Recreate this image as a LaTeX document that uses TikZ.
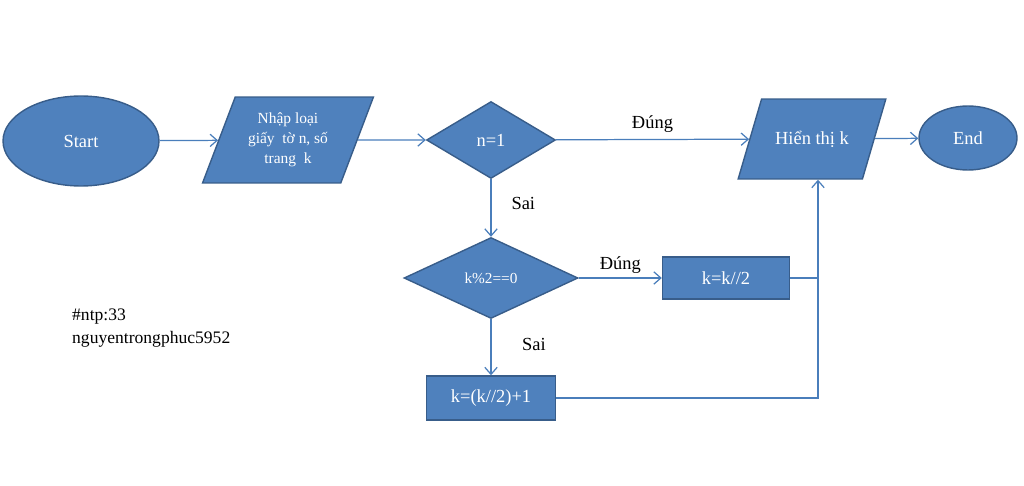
\documentclass[tikz,border=0pt]{standalone}
\usepackage{fontspec}
\setmainfont{Liberation Serif}
\usepackage{tikz}
\usetikzlibrary{positioning,arrows.meta,shapes.geometric,calc}

\definecolor{boxfill}{HTML}{4F81BD}
\definecolor{boxline}{HTML}{385D8A}
\definecolor{arrline}{HTML}{4A7EBB}

\begin{document}
\begin{tikzpicture}[
    x=0.02cm, y=-0.02cm,
    font=\fontsize{10.5}{12}\selectfont,
    base/.style={draw=boxline, fill=boxfill, text=white, line width=0.8pt,
                 inner sep=1pt, align=center},
    term/.style={base, ellipse},
    io/.style={base, trapezium, trapezium left angle=66, trapezium right angle=114,
               trapezium stretches},
    cond/.style={base, diamond},
    proc/.style={base, rectangle},
    arr/.style={-{Straight Barb[length=4pt,width=7pt]}, draw=arrline, line width=0.7pt},
    lin/.style={draw=arrline, line width=0.7pt},
    lbl/.style={text=black}
  ]
    \useasboundingbox (0,0) rectangle (1024,486);
    \node[term, minimum width=3.12cm, minimum height=1.8cm] (start) at (81,141) {Start};
    \node[io, minimum width=3.42cm, minimum height=1.72cm,
          font=\fontsize{8.8}{11.5}\selectfont] (inp) at (288,140)
          {Nhập loại\\giấy\ \ tờ n, số\\trang\ \ k};
    \node[cond, minimum width=2.58cm, minimum height=1.54cm] (c1) at (491,140) {n=1};
    \node[io, trapezium left angle=48, trapezium right angle=132,
          minimum width=2.96cm, minimum height=1.6cm] (out) at (812,139) {Hiển\ thị\ k};
    \node[term, minimum width=1.96cm, minimum height=1.28cm] (end) at (968,138) {End};
    \node[cond, minimum width=3.48cm, minimum height=1.62cm,
          font=\fontsize{8.7}{11}\selectfont] (c2) at (491,278) {k\%2==0};
    \node[proc, minimum width=2.54cm, minimum height=0.84cm] (r1) at (726,278) {k=k//2};
    \node[proc, minimum width=2.58cm, minimum height=0.88cm] (r2) at (491,398) {k=(k//2)+1};
    \coordinate (j) at (818,278);

    \draw[arr] (start) -- (inp);
    \draw[arr] (inp) -- (c1);
    \draw[arr] (c1) -- node[lbl, above=0.5pt] {Đúng} (out);
    \draw[arr] (out) -- (end);
    \draw[arr] (c1) -- node[lbl, right=8pt, pos=0.42] {Sai} (c2);
    \draw[arr] (c2) -- node[lbl, above=-1pt] {Đúng} (r1);
    \draw[arr] (c2) -- node[lbl, right=14pt, pos=0.45] {Sai} (r2);
    \draw[lin] (r1.east) -- (j);
    \draw[arr] (r2.east) -| (j) -- (j |- out.south);

    \node[lbl, anchor=west, align=left, font=\fontsize{10}{13.5}\selectfont] (sig) at (66,328)
          {\#ntp:33\\nguyentrongphuc5952};
  \end{tikzpicture}
\end{document}
